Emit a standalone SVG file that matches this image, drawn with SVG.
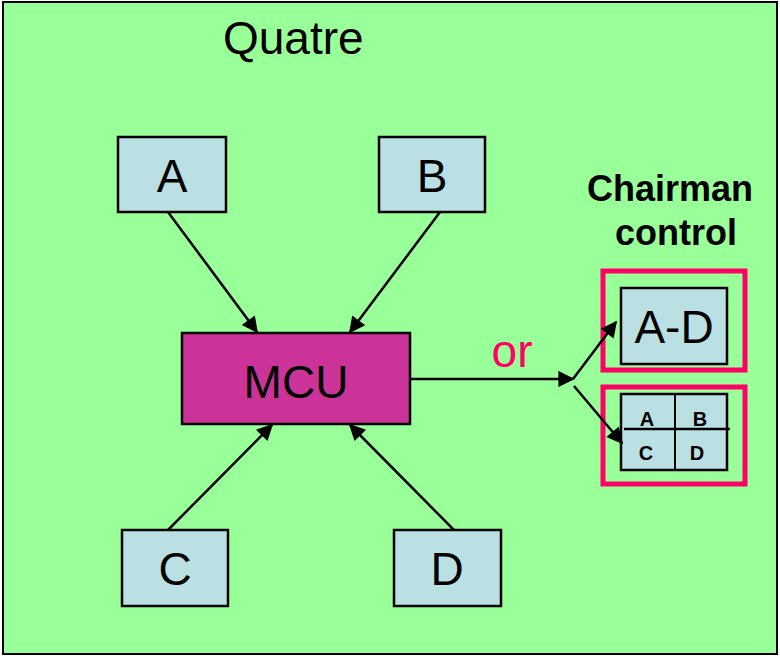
<svg xmlns="http://www.w3.org/2000/svg" width="780" height="656" viewBox="0 0 780 656">
<defs>
<style>
.box{fill:#bbe0e3;stroke:#000;stroke-width:2.5}
.lbl{font-family:"Liberation Sans",Arial,sans-serif;font-size:46px;fill:#000;text-anchor:middle}
.sm{font-family:"Liberation Sans",Arial,sans-serif;font-size:20px;font-weight:bold;fill:#000;text-anchor:middle}
.bold{font-family:"Liberation Sans",Arial,sans-serif;font-size:36px;font-weight:bold;fill:#000}
.conn{stroke:#000;stroke-width:2.5;fill:none;marker-end:url(#ah)}
.pink{fill:none;stroke:#ff0066;stroke-width:5}
</style>
<marker id="ah" viewBox="0 0 10 10" refX="9" refY="5" markerWidth="7.5" markerHeight="6.5" orient="auto" markerUnits="strokeWidth">
<path d="M0,0 L10,5 L0,10 z" fill="#000"/>
</marker>
</defs>
<rect x="3" y="2" width="774" height="652" fill="#99ff99" stroke="#000" stroke-width="2"/>
<text x="223" y="54" font-family="'Liberation Sans',Arial,sans-serif" font-size="46" fill="#000">Quatre</text>

<g id="node-A"><rect class="box" x="118" y="137" width="108" height="75"/><text class="lbl" x="172" y="192">A</text></g>
<g id="node-B"><rect class="box" x="379" y="137" width="106" height="75"/><text class="lbl" x="432" y="192">B</text></g>
<g id="node-MCU"><rect x="182" y="333" width="228" height="91" fill="#cc3399" stroke="#000" stroke-width="2.5"/><text class="lbl" x="296" y="398">MCU</text></g>
<g id="node-C"><rect class="box" x="122" y="530" width="106" height="76"/><text class="lbl" x="175" y="585">C</text></g>
<g id="node-D"><rect class="box" x="394" y="530" width="107" height="76"/><text class="lbl" x="447" y="585">D</text></g>

<g id="chairman-label"><text class="bold" x="587" y="201">Chairman</text><text class="bold" x="615" y="245">control</text></g>

<g id="node-AD">
<rect class="pink" x="603" y="271" width="142" height="99"/>
<rect class="box" x="621" y="288" width="106" height="76"/>
<text class="lbl" x="674" y="343">A-D</text>
</g>
<g id="node-quad">
<rect class="pink" x="603" y="387" width="142" height="97"/>
<rect class="box" x="621" y="394" width="106" height="76"/>
<line x1="675" y1="394" x2="675" y2="470" stroke="#000" stroke-width="2"/>
<line x1="624" y1="429" x2="730" y2="429" stroke="#000" stroke-width="2.5"/>
<text class="sm" x="647" y="426">A</text>
<text class="sm" x="700" y="426">B</text>
<text class="sm" x="646" y="460">C</text>
<text class="sm" x="697" y="460">D</text>
</g>

<g id="connectors">
<line class="conn" x1="168" y1="212" x2="257" y2="332"/>
<line class="conn" x1="440" y1="212" x2="350" y2="332"/>
<line class="conn" x1="168" y1="530" x2="272" y2="425"/>
<line class="conn" x1="454" y1="530" x2="350" y2="425"/>
<line class="conn" x1="410" y1="379" x2="573" y2="379"/>
<line class="conn" x1="573" y1="379" x2="616" y2="322"/>
<line class="conn" x1="574" y1="386" x2="622" y2="443"/>
<text x="512" y="367" font-family="'Liberation Sans',Arial,sans-serif" font-size="46" fill="#ff0066" text-anchor="middle">or</text>
</g>
</svg>
